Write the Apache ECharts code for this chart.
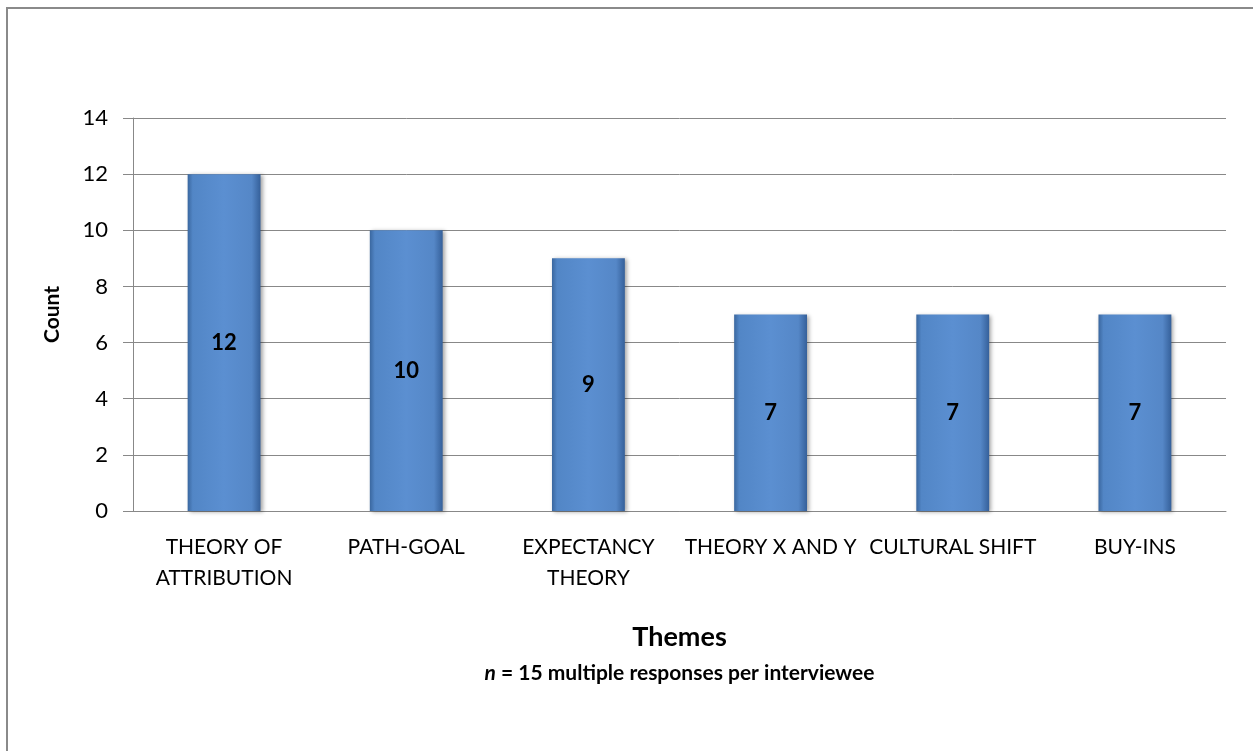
<!DOCTYPE html>
<html>
<head>
<meta charset="utf-8">
<script src="https://cdn.jsdelivr.net/npm/echarts@6/dist/echarts.min.js"></script>
<style>
html,body{margin:0;padding:0;background:#fff;}
#chart{width:1253px;height:751px;}
</style>
</head>
<body>
<div id="chart"></div>
<script>
const categories = ["THEORY OF\nATTRIBUTION", "PATH-GOAL", "EXPECTANCY\nTHEORY", "THEORY X AND Y", "CULTURAL SHIFT", "BUY-INS"];
const counts = [12, 10, 9, 7, 7, 7];
const yTicks = { min: 0, max: 14, interval: 2 };

const FONT = 'Lato';
const chart = echarts.init(document.getElementById('chart'), null, { renderer: 'canvas' });
const barColor = new echarts.graphic.LinearGradient(0, 0, 1, 0, [
  { offset: 0, color: '#3a679f' },
  { offset: 0.07, color: '#5286c6' },
  { offset: 0.5, color: '#5b8fd1' },
  { offset: 0.88, color: '#5587c7' },
  { offset: 1, color: '#35609a' }
]);
chart.setOption({
  animation: false,
  backgroundColor: '#fff',
  textStyle: { fontFamily: FONT },
  graphic: [{
    type: 'rect',
    shape: { x: 7, y: 8, width: 1400, height: 900 },
    style: { fill: 'none', stroke: '#8a8a8a', lineWidth: 2 },
    silent: true,
    z: 100
  }],
  grid: { left: 133, right: 27, top: 118, bottom: 240, containLabel: false },
  xAxis: {
    type: 'category',
    data: categories,
    axisLine: { lineStyle: { color: '#888', width: 1 } },
    axisTick: { show: false },
    axisLabel: { interval: 0, color: '#000', fontSize: 21, fontFamily: FONT, margin: 21, lineHeight: 31 },
    name: '{t|Themes}\n{i|n}{b| = 15 multiple responses per interviewee}',
    nameLocation: 'middle',
    nameGap: 108,
    nameTextStyle: {
      rich: {
        t: { fontSize: 27, fontWeight: 'bold', color: '#000', fontFamily: FONT, lineHeight: 36 },
        b: { fontSize: 21, fontWeight: 'bold', color: '#000', fontFamily: FONT, lineHeight: 36 },
        i: { fontSize: 21, fontWeight: 'bold', fontStyle: 'italic', color: '#000', fontFamily: FONT, lineHeight: 36 }
      }
    }
  },
  yAxis: {
    type: 'value',
    min: yTicks.min, max: yTicks.max, interval: yTicks.interval,
    axisLine: { show: true, lineStyle: { color: '#888', width: 1 } },
    axisTick: { show: true, length: 10, lineStyle: { color: '#888' } },
    splitLine: { lineStyle: { color: '#888', width: 1 } },
    axisLabel: { color: '#000', fontSize: 22, fontFamily: FONT, margin: 25 },
    name: 'Count',
    nameLocation: 'middle',
    nameRotate: 90,
    nameGap: 70,
    nameTextStyle: { fontSize: 21, fontWeight: 'bold', color: '#000', fontFamily: FONT }
  },
  series: [{
    type: 'bar',
    data: counts,
    barWidth: '40%',
    itemStyle: {
      color: barColor,
      shadowColor: 'rgba(0,0,0,0.35)',
      shadowBlur: 4,
      shadowOffsetX: 2,
      shadowOffsetY: 1
    },
    label: {
      show: true,
      position: 'inside',
      color: '#000',
      fontSize: 22,
      fontWeight: 'bold',
      fontFamily: FONT
    }
  }]
});
</script>
</body>
</html>
